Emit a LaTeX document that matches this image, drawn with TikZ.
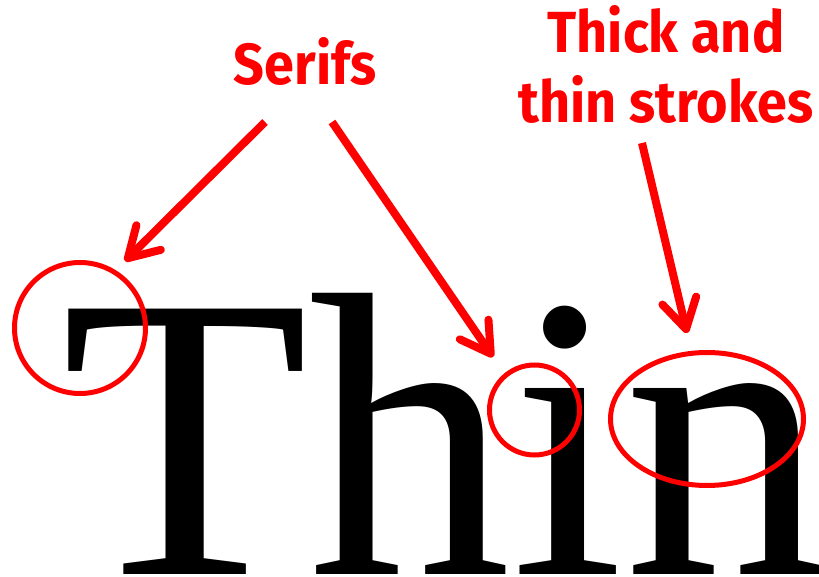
\documentclass[tikz,border=0pt]{standalone}
\usepackage{fontspec}
\setmainfont{Liberation Serif}
\newfontfamily\notefont{Fira Sans}
\usepackage{xcolor}
\usetikzlibrary{arrows.meta,shapes.geometric}

\begin{document}
\begin{tikzpicture}[x=0.75pt, y=-0.75pt,
    every node/.style={inner sep=0pt, outer sep=0pt},
    word/.style={font=\fontsize{304}{304}\selectfont, anchor=base west},
    note/.style={font=\notefont\bfseries\fontsize{43.5}{52.5}\selectfont, text=red, align=center, xscale=0.93},
    ring/.style={draw=red, line width=3.75pt, circle},
    oval/.style={draw=red, line width=3.75pt, ellipse},
    pointer/.style={draw=red, line width=6pt, line cap=butt,
        -{Straight Barb[length=22pt, width=26pt, line cap=round, line join=round]}},
]
\useasboundingbox (0,0) rectangle (819,577);

% the sample word and the labels
\node[word] (thin) at (61,575) {Thin};
\node[note, anchor=base] (serifs) at (305,85) {Serifs};
\node[note, anchor=base] (strokes) at (666,123) {Thick and\\thin strokes};

% marks on the letters
\node[ring, minimum size=98.25pt] (serifT) at (80,328) {};
\node[ring, minimum size=67.5pt] (serifI) at (534.5,410) {};
\node[oval, minimum width=144.75pt, minimum height=99.75pt] (strokeN) at (707,419) {};

% arrow ends
\coordinate (fromS1) at (265,122);
\coordinate (fromS2) at (332,122);
\coordinate (fromK) at (642,143);
\coordinate (toT) at (125,261);
\coordinate (toI) at (493,357);
\coordinate (toN) at (687,333);

\draw[pointer] (fromS1) -- (toT);
\draw[pointer] (fromS2) -- (toI);
\draw[pointer] (fromK) -- (toN);
\end{tikzpicture}
\end{document}
